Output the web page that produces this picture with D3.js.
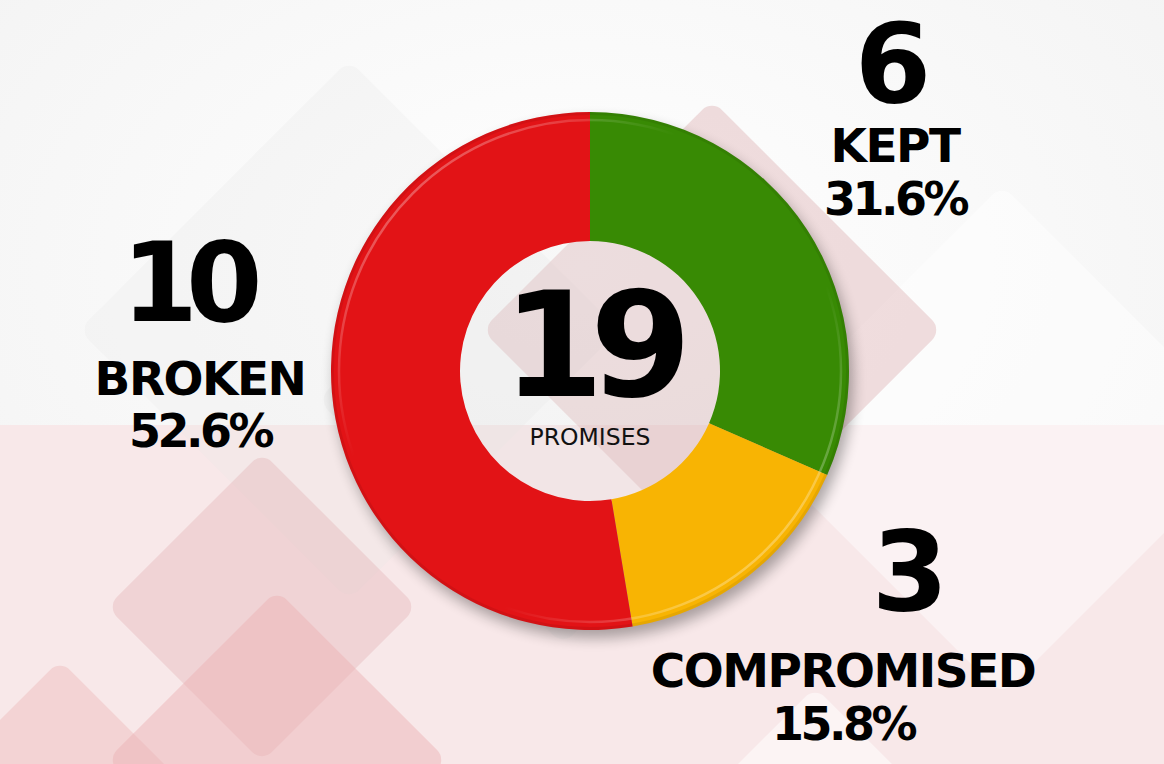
<!DOCTYPE html>
<html>
<head>
<meta charset="utf-8">
<script src="https://cdn.jsdelivr.net/npm/d3@7"></script>
<style>
  html, body { margin: 0; padding: 0; background: #f6f6f6; }
  svg { display: block; }
  .num, .lab { font-family: "DejaVu Sans", sans-serif; font-weight: bold; fill: #000; }
  .sub { font-family: "DejaVu Sans", sans-serif; font-weight: normal; fill: #111; }
</style>
</head>
<body>
<svg id="chart" width="1164" height="764"></svg>
<script>
// promise tracker data
var categories = ["KEPT", "COMPROMISED", "BROKEN"];
var counts = [6, 3, 10];
var sliceColors = ["#388a04", "#f8b403", "#e21316"];
var centerLabel = "PROMISES";

var svg = d3.select("#chart"),
    width = +svg.attr("width"),
    height = +svg.attr("height");

var cx = 590, cy = 371,
    outerR = 259, innerR = 130;

var defs = svg.append("defs");

// ---- background ----
var bgGrad = defs.append("radialGradient").attr("id", "bgGrad")
    .attr("cx", "0.5").attr("cy", "0.35").attr("r", "0.7");
bgGrad.append("stop").attr("offset", "0%").attr("stop-color", "#ffffff");
bgGrad.append("stop").attr("offset", "100%").attr("stop-color", "#f3f3f3");

var bg = svg.append("g").attr("class", "background");
bg.append("rect").attr("width", width).attr("height", height).attr("fill", "url(#bgGrad)");
bg.append("rect").attr("y", 425).attr("width", width).attr("height", height - 425).attr("fill", "#f8e8e9");

// decorative rotated squares (cx, cy, half diagonal, colour, opacity)
var diamonds = [
  [349, 330, 270, "#e6e6e6", 0.25],
  [1002, 440, 255, "#ffffff", 0.45],
  [712, 330, 230, "#d9a9ab", 0.38],
  [563, 400, 245, "#dcdcdc", 0.2],
  [262, 607, 155, "#e3b5b7", 0.4],
  [277, 760, 170, "#eab0b2", 0.45],
  [60, 800, 140, "#eab3b5", 0.4],
  [815, 900, 213, "#ffffff", 0.5]
];

bg.selectAll(".diamond")
    .data(diamonds)
    .enter()
    .append("rect")
    .attr("class", "diamond")
    .attr("x", function(d){ return -d[2] / Math.SQRT2; })
    .attr("y", function(d){ return -d[2] / Math.SQRT2; })
    .attr("width", function(d){ return d[2] * Math.SQRT2; })
    .attr("height", function(d){ return d[2] * Math.SQRT2; })
    .attr("rx", 14)
    .attr("fill", function(d){ return d[3]; })
    .attr("opacity", function(d){ return d[4]; })
    .attr("transform", function(d){ return "translate(" + d[0] + "," + d[1] + ") rotate(45)"; });

// ---- donut ----
var data = categories.map(function(c, i){ return {name: c, count: counts[i], color: sliceColors[i]}; });
var total = d3.sum(counts);
var pct = d3.format(".1%");

var pie = d3.pie().sort(null).value(function(d){ return d.count; });
var arc = d3.arc().innerRadius(innerR).outerRadius(outerR);

// soft shadow, kept out of the hole
var blur = defs.append("filter").attr("id", "blur")
    .attr("x", "-20%").attr("y", "-20%").attr("width", "140%").attr("height", "140%");
blur.append("feGaussianBlur").attr("stdDeviation", 7);

var holeMask = defs.append("mask").attr("id", "holeMask");
holeMask.append("rect").attr("width", width).attr("height", height).attr("fill", "white");
holeMask.append("circle").attr("cx", cx).attr("cy", cy).attr("r", innerR + 2).attr("fill", "black");

svg.append("g").attr("mask", "url(#holeMask)")
  .append("circle")
    .attr("cx", cx + 4).attr("cy", cy + 8).attr("r", outerR)
    .attr("fill", "#000").attr("opacity", 0.32)
    .attr("filter", "url(#blur)");

var g = svg.append("g").attr("transform", "translate(" + cx + "," + cy + ")");

g.selectAll(".slice")
    .data(pie(data))
    .enter()
    .append("path")
    .attr("class", "slice")
    .attr("d", arc)
    .attr("fill", function(d){ return d.data.color; });

// rim: darker edge + glossy highlight
g.append("circle").attr("r", outerR - 1.5)
    .attr("fill", "none").attr("stroke", "#000").attr("stroke-opacity", 0.07).attr("stroke-width", 3);

var rimGrad = defs.append("linearGradient").attr("id", "rimGrad")
    .attr("x1", "0").attr("y1", "0").attr("x2", "1").attr("y2", "1");
rimGrad.append("stop").attr("offset", "0%").attr("stop-color", "#fff").attr("stop-opacity", 0.5);
rimGrad.append("stop").attr("offset", "35%").attr("stop-color", "#fff").attr("stop-opacity", 0);
rimGrad.append("stop").attr("offset", "65%").attr("stop-color", "#fff").attr("stop-opacity", 0);
rimGrad.append("stop").attr("offset", "100%").attr("stop-color", "#fff").attr("stop-opacity", 0.5);

g.append("circle").attr("r", outerR - 8)
    .attr("fill", "none").attr("stroke", "url(#rimGrad)").attr("stroke-width", 2.5);

// ---- centre ----
g.append("text").attr("class", "num")
    .attr("text-anchor", "middle").attr("x", 0).attr("y", 25)
    .attr("font-size", 146).attr("letter-spacing", -14)
    .text(total);

g.append("text").attr("class", "sub")
    .attr("text-anchor", "middle").attr("y", 74)
    .attr("font-size", 23.5)
    .text(centerLabel);

// ---- labels ---- (number x, number baseline, label x, label baseline, pct baseline)
var labelPos = [
  [887, 102, 895, 162, 215],
  [904, 610, 843, 687, 740],
  [186, 321, 200, 395, 447]
];

var labels = svg.selectAll(".label")
    .data(data)
    .enter()
    .append("g")
    .attr("class", "label");

labels.append("text").attr("class", "num")
    .attr("text-anchor", "middle")
    .attr("x", function(d, i){ return labelPos[i][0]; })
    .attr("y", function(d, i){ return labelPos[i][1]; })
    .attr("font-size", 110).attr("letter-spacing", -12)
    .text(function(d){ return d.count; });

labels.append("text").attr("class", "lab")
    .attr("text-anchor", "middle")
    .attr("x", function(d, i){ return labelPos[i][2]; })
    .attr("y", function(d, i){ return labelPos[i][3]; })
    .attr("font-size", 47).attr("letter-spacing", -1.5)
    .text(function(d){ return d.name; });

labels.append("text").attr("class", "lab")
    .attr("text-anchor", "middle")
    .attr("x", function(d, i){ return labelPos[i][2]; })
    .attr("y", function(d, i){ return labelPos[i][4]; })
    .attr("font-size", 46).attr("letter-spacing", -3.5)
    .text(function(d){ return pct(d.count / total); });
</script>
</body>
</html>
